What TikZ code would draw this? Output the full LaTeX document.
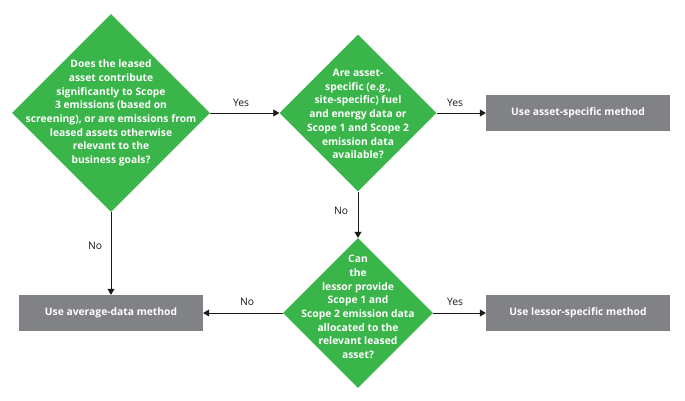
\documentclass[tikz,border=0pt]{standalone}
\usepackage{fontspec}
\setmainfont{Open Sans}
\usepackage{xcolor}
\usetikzlibrary{positioning,arrows.meta,shapes.geometric}
\definecolor{leaf}{HTML}{39B54A}
\definecolor{slate}{HTML}{808285}
\definecolor{ink}{HTML}{1B1916}

\begin{document}
\begin{tikzpicture}[x=1pt,y=-1pt,font=\fontsize{10.3}{13.7}\selectfont,
    ask/.style={diamond,fill=leaf,inner sep=0pt,minimum width=#1,minimum height=#1},
    asktext/.style={text=white,font=\fontsize{10.3}{13.7}\selectfont\bfseries,align=center},
    method/.style={rectangle,fill=slate,text=white,font=\fontsize{10.3}{12}\selectfont\bfseries,
      minimum width=184pt,minimum height=36pt,inner sep=0pt},
    flow/.style={draw=ink,line width=0.8pt,-{Triangle[length=6pt,width=7pt]}},
    tag/.style={text=ink}]
  \useasboundingbox (0,0) rectangle (685,400);
  % questions
  \node[ask=198pt] (q1) at (111,113) {};
  \node[ask=157pt] (q2) at (358,113) {};
  \node[ask=150pt] (q3) at (358,313) {};
  \node[asktext] at (q1.center) {Does the leased\\asset contribute\\significantly to Scope\\3 emissions (based on\\screening), or are emissions from\\leased assets otherwise\\relevant to the\\business goals?};
  \node[asktext] at (358,114) {Are asset-\\specific (e.g.,\\site-specific) fuel\\and energy data or\\Scope 1 and Scope 2\\emission data\\available?};
  \node[asktext] at (358,307) {Can\\the\\lessor provide\\Scope 1 and\\Scope 2 emission data\\allocated to the\\relevant leased\\asset?};
  % outcomes
  \node[method] (asset) at (578,113) {Use asset-specific method};
  \node[method] (avg) at (111,313) {Use average-data method};
  \node[method] (lessor) at (578,313) {Use lessor-specific method};
  % connectors
  \draw[flow] (q1.east) -- (q2.west);
  \draw[flow] (q2.east) -- (asset.west);
  \draw[flow] (q2.south) -- (q3.north);
  \draw[flow] (q1.south) -- (avg.north);
  \draw[flow] (q3.west) -- (avg.east);
  \draw[flow] (q3.east) -- (lessor.west);
  \foreach \x/\y/\lab in {241/103/Yes, 455/103/Yes, 341/211/No, 95/246/No, 247/302/No, 455/302/Yes}
    \node[tag] at (\x,\y) {\lab};
\end{tikzpicture}
\end{document}
